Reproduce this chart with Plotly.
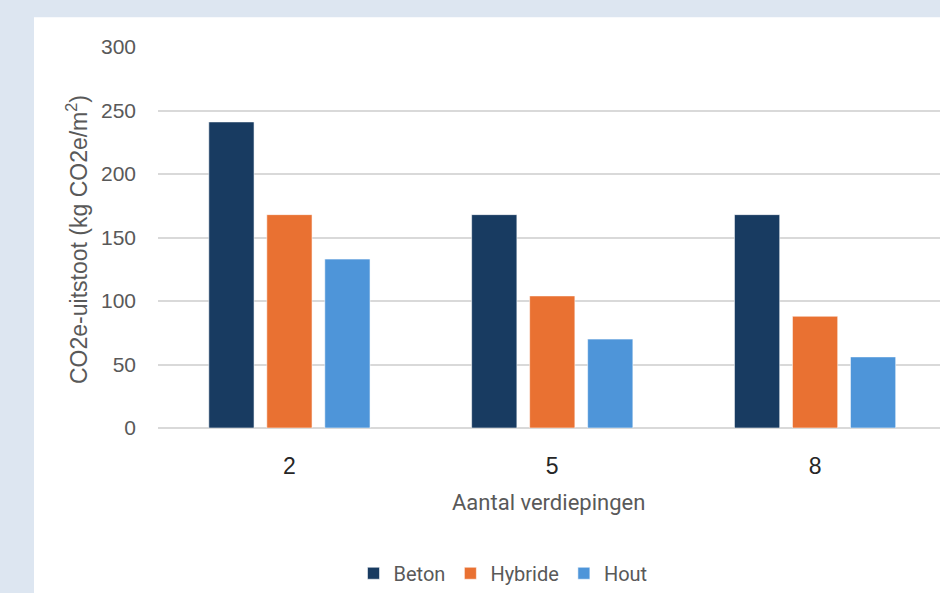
import plotly.graph_objects as go

categories = ["2", "5", "8"]
series_names = ["Beton", "Hybride", "Hout"]
beton = [241, 168, 168]
hybride = [168, 104, 88]
hout = [133, 70, 56]
colors = ["#183b61", "#e97132", "#4e95d9"]
y_ticks = [0, 50, 100, 150, 200, 250, 300]

W, H = 940, 593
L, R, T, B = 158, 0, 47, 163
pw, ph = W - L - R, H - T - B

def px_x(x):
    return (x - L) / pw

def px_y(y):
    return (H - B - y) / ph

fig = go.Figure()
for name, vals, col in zip(series_names, [beton, hybride, hout], colors):
    fig.add_trace(go.Bar(
        x=categories, y=vals, name=name,
        marker=dict(color=col, line=dict(color="rgba(255,255,255,0.55)", width=1)),
    ))

fig.update_layout(
    width=W, height=H,
    margin=dict(l=L, r=R, t=T, b=B, pad=0),
    paper_bgcolor="#dde6f1",
    plot_bgcolor="white",
    barmode="group",
    bargap=0.338,
    bargroupgap=0.22,
    showlegend=True,
    legend=dict(
        orientation="h",
        x=px_x(503), xanchor="center",
        y=px_y(576), yanchor="middle",
        font=dict(family="Roboto", size=20, color="#595959"),
        bgcolor="rgba(0,0,0,0)",
        itemclick=False,
    ),
    xaxis=dict(
        type="category",
        range=[-0.5, 2.5 - 6.5 / 263],
        showgrid=False,
        showline=False,
        zeroline=False,
        ticks="",
        tickfont=dict(family="Liberation Sans", size=23, color="#262626"),
        ticklabelstandoff=22,
    ),
    yaxis=dict(
        range=[0, 300],
        tickvals=y_ticks,
        showgrid=True,
        gridcolor="#d9d9d9",
        gridwidth=1.5,
        zeroline=True,
        zerolinecolor="#d9d9d9",
        zerolinewidth=1.5,
        showline=False,
        ticks="",
        tickfont=dict(family="Liberation Sans", size=21, color="#595959"),
        ticklabelstandoff=21,
    ),
    shapes=[dict(
        type="rect", xref="paper", yref="paper", layer="below",
        x0=px_x(34), x1=1.05, y0=px_y(H + 5), y1=px_y(17),
        fillcolor="white", line=dict(width=0),
    )],
    annotations=[
        dict(
            text="CO2e-uitstoot (kg CO2e/m<sup>2</sup>)",
            xref="paper", yref="paper",
            x=px_x(77), y=px_y(241),
            xanchor="center", yanchor="middle",
            textangle=-90, showarrow=False,
            font=dict(family="Liberation Sans", size=23, color="#595959"),
        ),
        dict(
            text="Aantal verdiepingen",
            xref="paper", yref="paper",
            x=px_x(548), y=px_y(505),
            xanchor="center", yanchor="middle",
            showarrow=False,
            font=dict(family="Roboto", size=22, color="#595959"),
        ),
    ],
)

fig.write_html("out.html")
